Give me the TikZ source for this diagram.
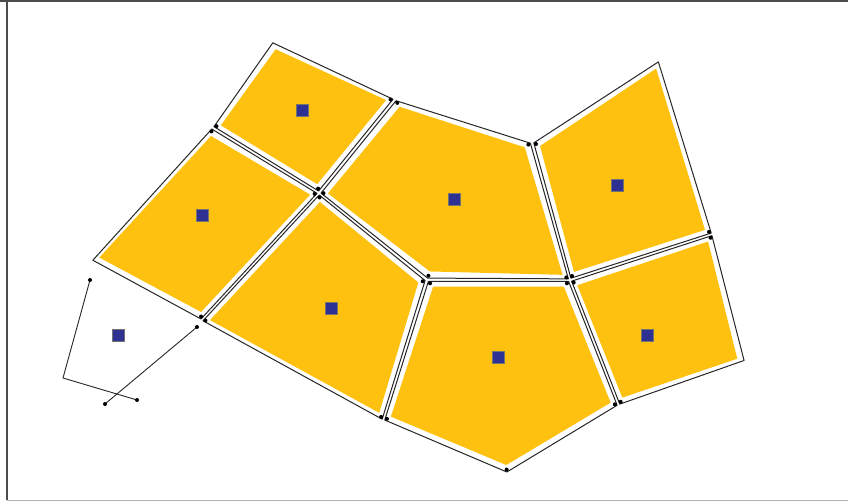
\documentclass[tikz,border=0pt]{standalone}
\usepackage{xcolor}
\usepackage{tikz}
\usetikzlibrary{calc}

\definecolor{cellyellow}{RGB}{255,193,15}
\definecolor{siteblue}{RGB}{46,49,146}

\begin{document}
\begin{tikzpicture}[
    x=1pt, y=-1pt,
    cell_fill/.style={fill=cellyellow},
    cell_edge/.style={draw=black!85, line width=1pt, line join=round},
    open_edge/.style={draw=black!85, line width=0.9pt},
    site/.style={rectangle, fill=siteblue, draw=black!55, line width=0.4pt, minimum size=11.5pt, inner sep=0pt},
    vertex_dot/.style={fill=black}
]
\useasboundingbox (0,0) rectangle (848,502);

% FRAME
\draw[black!70, line width=1.5pt] (0,1) -- (848,1); % top
\draw[black!70, line width=1.2pt] (7,1) -- (7,500); % left
\draw[black!30, line width=1.2pt] (7,500.5) -- (848,500.5); % bottom

% SITE POSITIONS
\coordinate (sTL) at (302,110);
\coordinate (sL)  at (202,215);
\coordinate (sTC) at (454,199);
\coordinate (sTR) at (617,185);
\coordinate (sCL) at (331,308);
\coordinate (sBC) at (498,357);
\coordinate (sBR) at (647,335);
\coordinate (sOut) at (118,335);

% VORONOI VERTICES
\coordinate (A) at (272,41);
\coordinate (B) at (395,99);
\coordinate (C) at (319,193);
\coordinate (D) at (212,127);
\coordinate (E) at (201,321);
\coordinate (F) at (91,261);
\coordinate (G) at (532,142);
\coordinate (H) at (570,280);
\coordinate (I) at (427,280);
\coordinate (J) at (659,60);
\coordinate (K) at (713,234);
\coordinate (L) at (383,421);
\coordinate (M) at (619,406);
\coordinate (N) at (507,474);
\coordinate (O) at (746,361);

% CELLS (fill inset, then outline)
\fill[cell_fill] ($(A)!9pt!(sTL)$) \foreach \v in {B,C,D} {-- ($(\v)!9pt!(sTL)$)} -- cycle;
\draw[cell_edge] ($(A)!2pt!(sTL)$) \foreach \v in {B,C,D} {-- ($(\v)!2pt!(sTL)$)} -- cycle;

\fill[cell_fill] ($(D)!9pt!(sL)$) \foreach \v in {C,E,F} {-- ($(\v)!9pt!(sL)$)} -- cycle;
\draw[cell_edge] ($(D)!2pt!(sL)$) \foreach \v in {C,E,F} {-- ($(\v)!2pt!(sL)$)} -- cycle;

\fill[cell_fill] ($(B)!9pt!(sTC)$) \foreach \v in {G,H,I,C} {-- ($(\v)!9pt!(sTC)$)} -- cycle;
\draw[cell_edge] ($(B)!2pt!(sTC)$) \foreach \v in {G,H,I,C} {-- ($(\v)!2pt!(sTC)$)} -- cycle;

\fill[cell_fill] ($(G)!9pt!(sTR)$) \foreach \v in {J,K,H} {-- ($(\v)!9pt!(sTR)$)} -- cycle;
\draw[cell_edge] ($(G)!2pt!(sTR)$) \foreach \v in {J,K,H} {-- ($(\v)!2pt!(sTR)$)} -- cycle;

\fill[cell_fill] ($(C)!9pt!(sCL)$) \foreach \v in {I,L,E} {-- ($(\v)!9pt!(sCL)$)} -- cycle;
\draw[cell_edge] ($(C)!2pt!(sCL)$) \foreach \v in {I,L,E} {-- ($(\v)!2pt!(sCL)$)} -- cycle;

\fill[cell_fill] ($(I)!9pt!(sBC)$) \foreach \v in {H,M,N,L} {-- ($(\v)!9pt!(sBC)$)} -- cycle;
\draw[cell_edge] ($(I)!2pt!(sBC)$) \foreach \v in {H,M,N,L} {-- ($(\v)!2pt!(sBC)$)} -- cycle;

\fill[cell_fill] ($(H)!9pt!(sBR)$) \foreach \v in {K,O,M} {-- ($(\v)!9pt!(sBR)$)} -- cycle;
\draw[cell_edge] ($(H)!2pt!(sBR)$) \foreach \v in {K,O,M} {-- ($(\v)!2pt!(sBR)$)} -- cycle;

% VERTEX DOTS
\foreach \v/\s in {B/sTL, C/sTL, D/sTL, D/sL, C/sL, E/sL, B/sTC, G/sTC, H/sTC, I/sTC, C/sTC,
                   G/sTR, K/sTR, H/sTR, C/sCL, I/sCL, L/sCL, E/sCL, I/sBC, H/sBC, M/sBC, N/sBC, L/sBC,
                   H/sBR, K/sBR, M/sBR}
    \fill[vertex_dot] ($(\v)!4.5pt!(\s)$) circle (2pt);

% OPEN CELL
\coordinate (P1) at (90,280);
\coordinate (P2) at (63,378);
\coordinate (P3) at (137,400);
\coordinate (Q1) at (197,327);
\coordinate (Q2) at (105,404);
\draw[open_edge] (P1) -- (P2) -- (P3);
\draw[open_edge] (Q1) -- (Q2);
\foreach \p in {P1,P3,Q1,Q2}
    \fill[vertex_dot] (\p) circle (2pt);

% SITE SQUARES
\foreach \s in {sTL,sL,sTC,sTR,sCL,sBC,sBR,sOut}
    \node[site] (\s-box) at (\s) {};

\end{tikzpicture}
\end{document}
